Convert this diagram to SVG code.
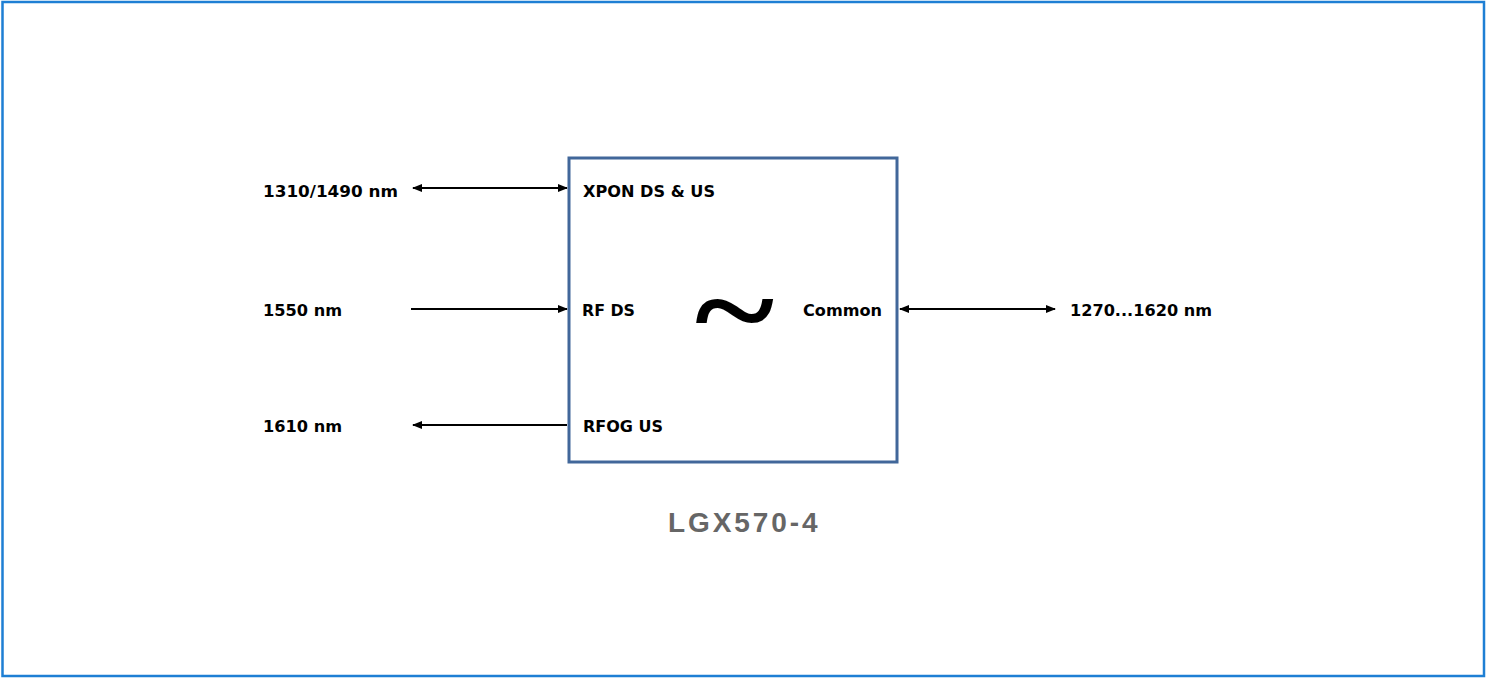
<svg xmlns="http://www.w3.org/2000/svg" width="1486" height="678" viewBox="0 0 1486 678">
<style>
.t{font-family:"DejaVu Sans","Verdana",sans-serif;font-weight:bold;font-size:16.5px;fill:#000}
.c{stroke:#000;stroke-width:2;fill:none}
</style>
<defs>
<marker id="ah" markerWidth="10" markerHeight="8" refX="9" refY="4" orient="auto-start-reverse" markerUnits="userSpaceOnUse">
<path d="M0,0 L10,4 L0,8 Z" fill="#000"/>
</marker>
</defs>
<rect x="0" y="0" width="1486" height="678" fill="#fff"/>
<rect x="2.5" y="2" width="1481.5" height="674" fill="none" stroke="#1e7fd4" stroke-width="2.5"/>
<g id="connectors">
<line class="c" x1="413" y1="188" x2="567" y2="188" marker-start="url(#ah)" marker-end="url(#ah)"/>
<line class="c" x1="411" y1="309" x2="567" y2="309" marker-end="url(#ah)"/>
<line class="c" x1="567" y1="425" x2="413" y2="425" marker-end="url(#ah)"/>
<line class="c" x1="900" y1="309" x2="1055" y2="309" marker-start="url(#ah)" marker-end="url(#ah)"/>
</g>
<g id="box">
<rect x="569" y="158" width="328" height="304" fill="none" stroke="#41679a" stroke-width="3"/>
<text class="t" x="583" y="197" textLength="132" lengthAdjust="spacingAndGlyphs">XPON DS &amp; US</text>
<text class="t" x="582" y="316" textLength="53" lengthAdjust="spacingAndGlyphs">RF DS</text>
<text class="t" x="583" y="432" textLength="80" lengthAdjust="spacingAndGlyphs">RFOG US</text>
<text class="t" x="803" y="316" textLength="79" lengthAdjust="spacingAndGlyphs">Common</text>
<text transform="translate(734.5,310) scale(1.17,1)" x="0" y="42.5" text-anchor="middle" font-family="Liberation Serif, serif" font-weight="bold" font-size="130">~</text>
<text x="668" y="532" font-family="Liberation Sans, Arial, sans-serif" font-weight="bold" font-size="28" fill="#666" letter-spacing="2.9">LGX570-4</text>
</g>
<g id="labels">
<text class="t" x="263" y="197" textLength="135" lengthAdjust="spacingAndGlyphs">1310/1490 nm</text>
<text class="t" x="263" y="316" textLength="79" lengthAdjust="spacingAndGlyphs">1550 nm</text>
<text class="t" x="263" y="432" textLength="79" lengthAdjust="spacingAndGlyphs">1610 nm</text>
<text class="t" x="1070" y="316" textLength="142" lengthAdjust="spacingAndGlyphs">1270...1620 nm</text>
</g>
</svg>
